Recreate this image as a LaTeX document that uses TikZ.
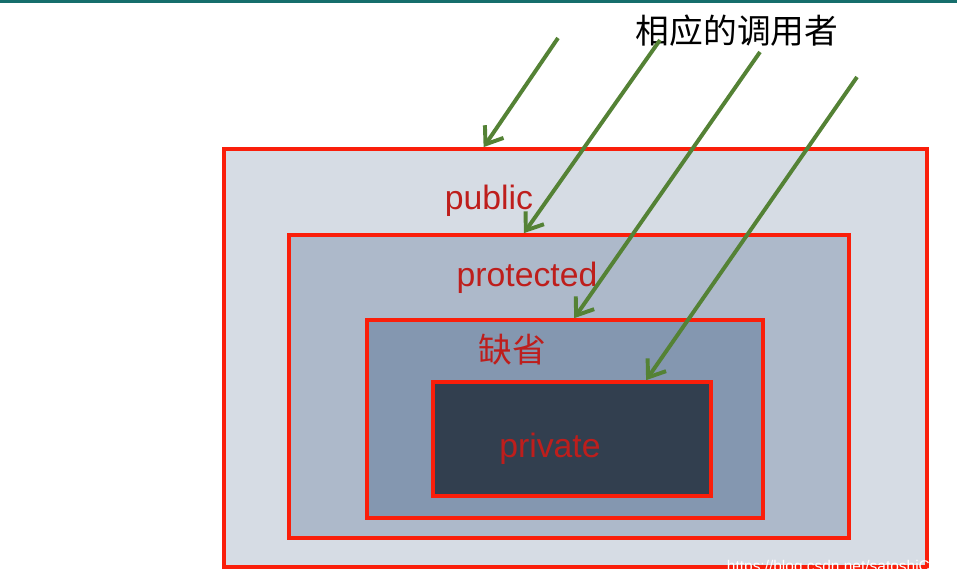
\documentclass[tikz,border=0pt]{standalone}
\usepackage{fontspec}
\setmainfont{Liberation Sans}
\newfontfamily\cjk{Noto Sans CJK SC}
\usetikzlibrary{positioning}
\usetikzlibrary{calc}
\usetikzlibrary{arrows.meta}
\definecolor{boxred}{RGB}{250,30,10}
\definecolor{txtred}{RGB}{190,30,28}
\definecolor{callgreen}{RGB}{84,130,53}
\definecolor{lvlone}{RGB}{214,220,228}
\definecolor{lvltwo}{RGB}{173,185,202}
\definecolor{lvlthree}{RGB}{132,151,176}
\definecolor{lvlfour}{RGB}{50,63,79}
\definecolor{topbar}{RGB}{22,110,108}

\begin{document}
\begin{tikzpicture}[x=0.025cm, y=-0.025cm,
		lvl/.style={rectangle,draw=boxred,line width=2.6pt,inner sep=0pt},
		lbl/.style={text=txtred,font=\fontsize{24}{28}\selectfont},
		call/.style={draw=callgreen,line width=2.8pt,-{Straight Barb[length=11pt,width=16pt,line width=2.8pt]}}]
		\useasboundingbox (0,0) rectangle (957,586);
		\fill[white] (0,0) rectangle (957,586);
		\fill[topbar] (0,0) rectangle (957,3);
		\node[lvl,fill=lvlone,minimum width=17.575cm,minimum height=10.45cm] (pub) at (575.5,358) {};
		\node[lvl,fill=lvltwo,minimum width=14cm,minimum height=7.575cm] (prot) at (569,386.5) {};
		\node[lvl,fill=lvlthree,minimum width=9.9cm,minimum height=4.95cm] (dflt) at (565,419) {};
		\node[lvl,fill=lvlfour,minimum width=6.95cm,minimum height=2.85cm] (priv) at (572,439) {};
		\node[lbl] (publbl) at (489,201) {public};
		\node[lbl] (protlbl) at (527,278) {protected};
		\node[lbl] (dfltlbl) at (512,350) {\cjk 缺省};
		\node[lbl] (privlbl) at (550,449) {private};
		\node[font=\cjk\fontsize{24}{28}\selectfont] (caller) at (737,31) {相应的调用者};
		\coordinate (c1) at (558,38);
		\coordinate (c2) at (660,40);
		\coordinate (c3) at (760,52);
		\coordinate (c4) at (857,77);
		\draw[call] (c1) -- ($(pub.north west)!0.37!(pub.north east)$);
		\draw[call] (c2) -- ($(prot.north west)!0.42!(prot.north east)$);
		\draw[call] (c3) -- ($(dflt.north west)!0.523!(dflt.north east)$);
		\draw[call] (c4) -- ($(priv.north west)!0.763!(priv.north east)$);
		\node[text=white,font=\fontsize{11}{13}\selectfont,anchor=east] (mark) at (946,567) {https://blog.csdn.net/satoshiCC};
	\end{tikzpicture}
\end{document}
